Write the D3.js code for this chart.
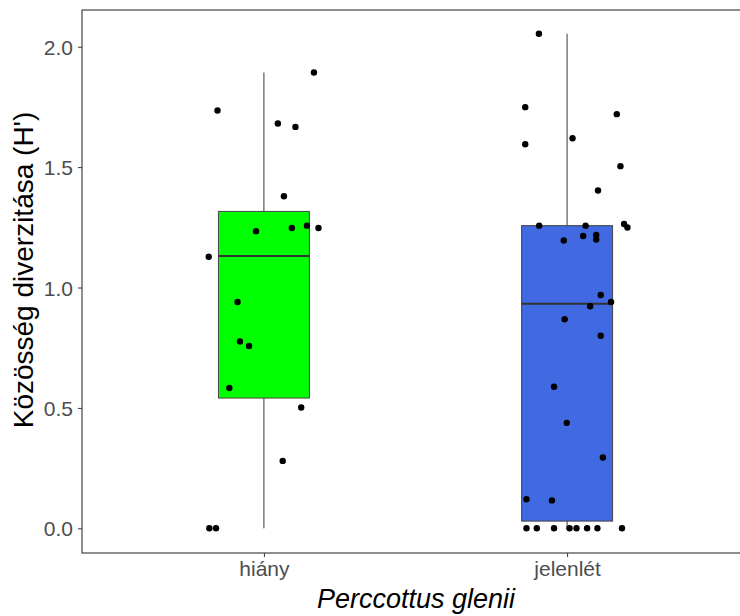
<!DOCTYPE html>
<html>
<head>
<meta charset="utf-8">
<script src="https://cdn.jsdelivr.net/npm/d3@7"></script>
<style>
  body { margin: 0; background: #fff; }
  svg text { font-family: "Liberation Sans", Arial, sans-serif; }
</style>
</head>
<body>
<svg id="chart" width="740" height="616"></svg>
<script>
// categories and box stats
var categories = ["hiány", "jelenlét"];
var boxColors = ["#00ff00", "#4169e1"];
var whiskerLow = [0, 0];
var q1 = [0.541, 0.030];
var medians = [1.131, 0.933];
var q3 = [1.316, 1.257];
var whiskerHigh = [1.893, 2.054];

// jittered points: x position (category index + jitter), value
var hianyX = [1.165, 0.847, 1.046, 1.104, 1.066, 0.974, 1.092, 1.142, 1.180, 0.818,
              0.913, 0.921, 0.951, 0.886, 1.123, 1.062, 0.820, 0.842];
var hianyY = [1.893, 1.735, 1.681, 1.667, 1.379, 1.234, 1.247, 1.257, 1.247, 1.128,
              0.940, 0.776, 0.757, 0.583, 0.502, 0.280, 0, 0];
var jelenletX = [1.907, 1.862, 2.164, 2.018, 1.862, 2.176, 2.102, 1.908, 2.061, 2.188,
                 2.199, 2.053, 2.096, 2.096, 1.989, 2.111, 2.145, 2.076, 1.992, 2.111,
                 1.957, 1.999, 2.118, 1.866, 1.950,
                 1.866, 1.900, 1.957, 2.008, 2.031, 2.066, 2.100, 2.181];
var jelenletY = [2.054, 1.749, 1.720, 1.620, 1.595, 1.504, 1.403, 1.257, 1.257, 1.264,
                 1.249, 1.214, 1.218, 1.199, 1.195, 0.969, 0.940, 0.922, 0.868, 0.800,
                 0.588, 0.438, 0.294, 0.121, 0.116,
                 0, 0, 0, 0, 0, 0, 0, 0];
var yTicks = [0, 0.5, 1.0, 1.5, 2.0];

var svg = d3.select("#chart");

var panelLeft = 82, panelTop = 10, panelRight = 749, panelBottom = 553;

var x = d3.scaleLinear().domain([0.4, 2.6]).range([panelLeft, panelRight]);
var y = d3.scaleLinear().domain([-0.1025, 2.1525]).range([panelBottom, panelTop]);

var boxHalf = 0.15;

// boxes
categories.forEach(function(c, i) {
  var cx = x(i + 1);
  var g = svg.append("g");
  // whiskers
  g.append("line")
    .attr("x1", cx).attr("x2", cx)
    .attr("y1", y(q3[i])).attr("y2", y(whiskerHigh[i]))
    .style("stroke", "#3a3a3a").style("stroke-width", 1);
  g.append("line")
    .attr("x1", cx).attr("x2", cx)
    .attr("y1", y(q1[i])).attr("y2", y(whiskerLow[i]))
    .style("stroke", "#3a3a3a").style("stroke-width", 1);
  // box
  g.append("rect")
    .attr("x", x(i + 1 - boxHalf))
    .attr("y", y(q3[i]))
    .attr("width", x(i + 1 + boxHalf) - x(i + 1 - boxHalf))
    .attr("height", y(q1[i]) - y(q3[i]))
    .style("fill", boxColors[i])
    .style("stroke", "#444").style("stroke-width", 1);
  // median
  g.append("line")
    .attr("x1", x(i + 1 - boxHalf)).attr("x2", x(i + 1 + boxHalf))
    .attr("y1", y(medians[i])).attr("y2", y(medians[i]))
    .style("stroke", "#333").style("stroke-width", 2);
});

// points
var pts = hianyX.map(function(d, i) { return [d, hianyY[i]]; })
  .concat(jelenletX.map(function(d, i) { return [d, jelenletY[i]]; }));
svg.append("g").selectAll("circle")
  .data(pts)
  .enter().append("circle")
  .attr("cx", function(d) { return x(d[0]); })
  .attr("cy", function(d) { return y(d[1]); })
  .attr("r", 3.2)
  .style("fill", "#000");

// panel border
svg.append("rect")
  .attr("x", panelLeft).attr("y", panelTop)
  .attr("width", panelRight - panelLeft).attr("height", panelBottom - panelTop)
  .style("fill", "none").style("stroke", "#333").style("stroke-width", 1.1);

// y axis
var yAxis = d3.axisLeft(y).tickValues(yTicks).tickFormat(d3.format(".1f")).tickSize(4).tickSizeOuter(0);
var gy = svg.append("g")
  .attr("transform", "translate(" + panelLeft + ",0)")
  .call(yAxis);
gy.select(".domain").remove();
gy.selectAll("line").style("stroke", "#333");
gy.selectAll("text")
  .style("fill", "#4d4d4d")
  .style("font-size", "21px")
  .attr("x", -9)
  .attr("dy", "0.36em");

// x axis
var xAxis = d3.axisBottom(x).tickValues([1, 2])
  .tickFormat(function(d) { return categories[d - 1]; })
  .tickSize(4).tickSizeOuter(0);
var gx = svg.append("g")
  .attr("transform", "translate(0," + panelBottom + ")")
  .call(xAxis);
gx.select(".domain").remove();
gx.selectAll("line").style("stroke", "#333");
gx.selectAll("text")
  .style("fill", "#4d4d4d")
  .style("font-size", "21px")
  .attr("y", 8)
  .attr("dy", "0.71em");

// titles
svg.append("text")
  .attr("x", 416)
  .attr("y", 608)
  .attr("text-anchor", "middle")
  .style("font-size", "27px")
  .style("font-style", "italic")
  .style("fill", "#000")
  .text("Perccottus glenii");

svg.append("text")
  .attr("transform", "translate(33,270) rotate(-90)")
  .attr("text-anchor", "middle")
  .style("font-size", "28px")
  .style("fill", "#000")
  .text("Közösség diverzitása (H')");
</script>
</body>
</html>
